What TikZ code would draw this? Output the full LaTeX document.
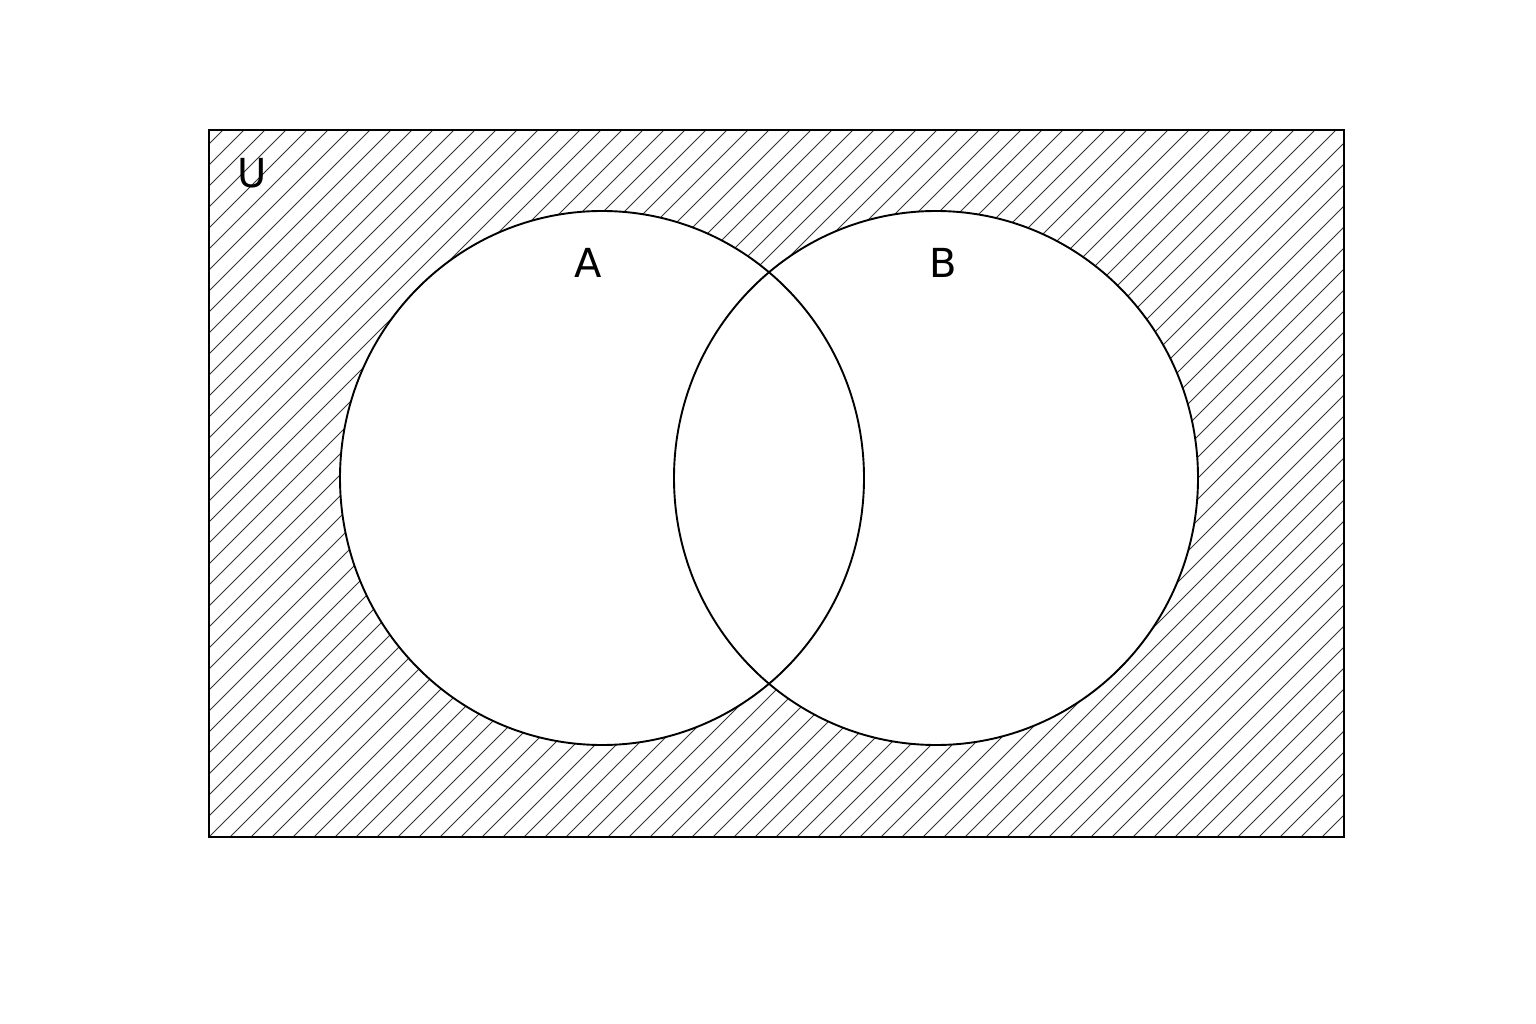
\documentclass[tikz,border=0pt]{standalone}
\usepackage{fontspec}
\setmainfont{DejaVu Sans}
\begin{document}
\begin{tikzpicture}[x=1pt,y=-1pt,
  outline/.style={draw=black,line width=1.9pt},
  hatch/.style={draw=black!80,line width=0.8pt},
  setlabel/.style={font=\fontsize{40}{48}\selectfont,inner sep=0pt}]
\useasboundingbox (0,0) rectangle (1536,1024);
\fill[white] (0,0) rectangle (1536,1024);
\coordinate (ul) at (209,130);
\coordinate (lr) at (1344,837);
\begin{scope}
  \clip (ul) rectangle (lr);
  \foreach \i in {-40,...,60} {
    \draw[hatch] (209+\i*21,837) -- ++(720,-720);
  }
\end{scope}
\fill[white] (602,478) ellipse [x radius=262, y radius=267];
\fill[white] (936,478) ellipse [x radius=262, y radius=267];
\draw[outline] (602,478) ellipse [x radius=262, y radius=267];
\draw[outline] (936,478) ellipse [x radius=262, y radius=267];
\draw[outline] (ul) rectangle (lr);
\node[setlabel] (U) at (252,173) {U};
\node[setlabel] (A) at (588,263) {A};
\node[setlabel] (B) at (943,263) {B};
\end{tikzpicture}
\end{document}
